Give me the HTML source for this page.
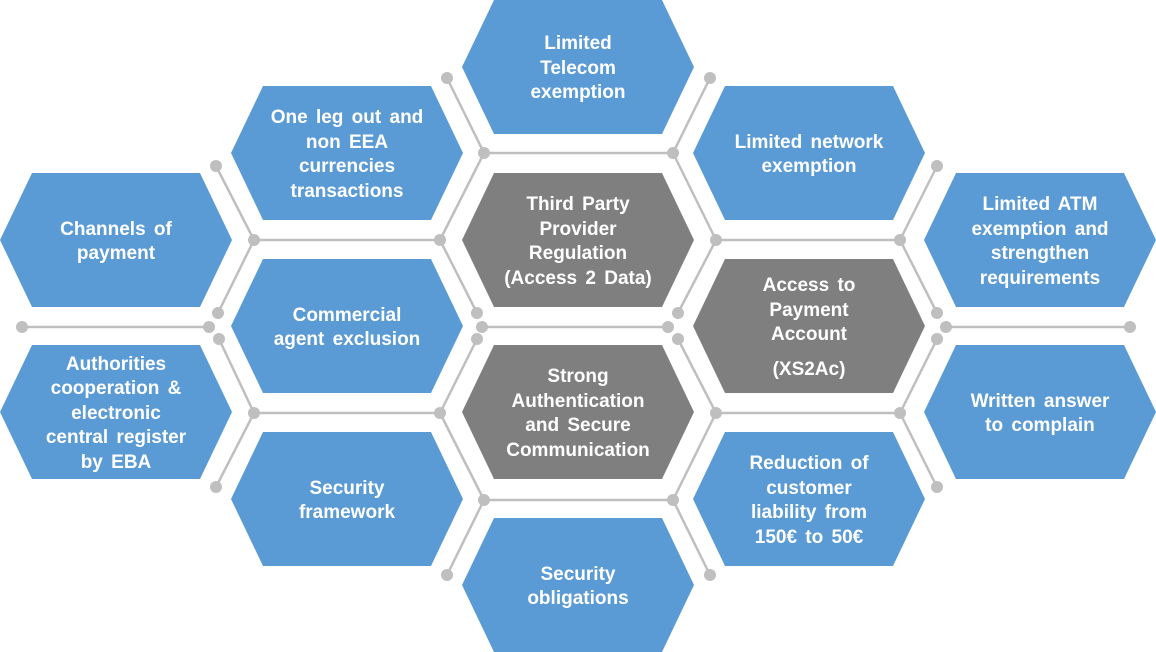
<!DOCTYPE html>
<html><head><meta charset="utf-8"><style>
body{margin:0;width:1156px;height:652px;background:#fff;position:relative;overflow:hidden;font-family:"Liberation Sans",Arial,sans-serif}
svg{position:absolute;left:0;top:0}
.t{position:absolute;width:200px;height:134px;box-sizing:border-box;padding-top:4px;display:flex;align-items:center;justify-content:center;text-align:center;color:#fff;font-weight:bold;font-size:19px;line-height:24.5px;word-spacing:3px}
</style></head><body>
<svg width="1156" height="652">
<g stroke="#bfbfbf" stroke-width="2.5" fill="none">
<polyline points="447,78 484,153 673,153 710,78"/>
<line x1="484" y1="153" x2="440" y2="240"/><line x1="673" y1="153" x2="716" y2="240"/>
<polyline points="216,166 254,240 440,240 477,313"/>
<polyline points="937,166 900,240 716,240 678,313"/>
<polyline points="218,313 254,240"/><polyline points="937,313 900,240"/>
<line x1="22" y1="327" x2="209" y2="327"/><line x1="482" y1="327" x2="668" y2="327"/><line x1="946" y1="327" x2="1130" y2="327"/>
<polyline points="219,339 254,413 440,413 477,339"/>
<polyline points="937,339 900,413 716,413 678,339"/>
<line x1="254" y1="413" x2="216" y2="487"/><line x1="900" y1="413" x2="937" y2="487"/>
<polyline points="447,575 484,500 673,500 710,575"/>
<line x1="484" y1="500" x2="440" y2="413"/><line x1="673" y1="500" x2="716" y2="413"/>
</g>
<g fill="#bfbfbf">
<circle cx="447" cy="78" r="6"/><circle cx="710" cy="78" r="6"/><circle cx="484" cy="153" r="6"/><circle cx="673" cy="153" r="6"/>
<circle cx="216" cy="166" r="6"/><circle cx="937" cy="166" r="6"/><circle cx="254" cy="240" r="6"/><circle cx="440" cy="240" r="6"/><circle cx="716" cy="240" r="6"/><circle cx="900" cy="240" r="6"/>
<circle cx="218" cy="313" r="6"/><circle cx="477" cy="313" r="6"/><circle cx="678" cy="313" r="6"/><circle cx="937" cy="313" r="6"/>
<circle cx="22" cy="327" r="6"/><circle cx="209" cy="327" r="6"/><circle cx="482" cy="327" r="6"/><circle cx="668" cy="327" r="6"/><circle cx="946" cy="327" r="6"/><circle cx="1130" cy="327" r="6"/>
<circle cx="219" cy="339" r="6"/><circle cx="477" cy="339" r="6"/><circle cx="678" cy="339" r="6"/><circle cx="937" cy="339" r="6"/>
<circle cx="254" cy="413" r="6"/><circle cx="440" cy="413" r="6"/><circle cx="716" cy="413" r="6"/><circle cx="900" cy="413" r="6"/>
<circle cx="216" cy="487" r="6"/><circle cx="937" cy="487" r="6"/><circle cx="484" cy="500" r="6"/><circle cx="673" cy="500" r="6"/>
<circle cx="447" cy="575" r="6"/><circle cx="710" cy="575" r="6"/>
</g>
<defs><polygon id="h" points="0,67 32,0 200,0 232,67 200,134 32,134"/></defs>
<g fill="#5b9bd5">
<use href="#h" x="462" y="0"/><use href="#h" x="462" y="518"/>
<use href="#h" x="231" y="86"/><use href="#h" x="231" y="259"/><use href="#h" x="231" y="432"/>
<use href="#h" x="693" y="86"/><use href="#h" x="693" y="432"/>
<use href="#h" x="0" y="173"/><use href="#h" x="0" y="345"/>
<use href="#h" x="924" y="173"/><use href="#h" x="924" y="345"/>
</g>
<g fill="#7f7f7f">
<use href="#h" x="462" y="173"/><use href="#h" x="462" y="345"/><use href="#h" x="693" y="259"/>
</g>
</svg>
<div class="t" style="left:478px;top:0">Limited<br>Telecom<br>exemption</div>
<div class="t" style="left:478px;top:173px">Third Party<br>Provider<br>Regulation<br>(Access 2 Data)</div>
<div class="t" style="left:478px;top:345px">Strong<br>Authentication<br>and Secure<br>Communication</div>
<div class="t" style="left:478px;top:518px">Security<br>obligations</div>
<div class="t" style="left:247px;top:86px">One leg out and<br>non EEA<br>currencies<br>transactions</div>
<div class="t" style="left:247px;top:259px">Commercial<br>agent exclusion</div>
<div class="t" style="left:247px;top:432px">Security<br>framework</div>
<div class="t" style="left:709px;top:86px">Limited network<br>exemption</div>
<div class="t" style="left:709px;top:259px"><div>Access to<br>Payment<br>Account<div style="margin-top:10px">(XS2Ac)</div></div></div>
<div class="t" style="left:709px;top:432px">Reduction of<br>customer<br>liability from<br>150€ to 50€</div>
<div class="t" style="left:16px;top:173px">Channels of<br>payment</div>
<div class="t" style="left:16px;top:345px">Authorities<br>cooperation &amp;<br>electronic<br>central register<br>by EBA</div>
<div class="t" style="left:940px;top:173px">Limited ATM<br>exemption and<br>strengthen<br>requirements</div>
<div class="t" style="left:940px;top:345px">Written answer<br>to complain</div>
</body></html>
